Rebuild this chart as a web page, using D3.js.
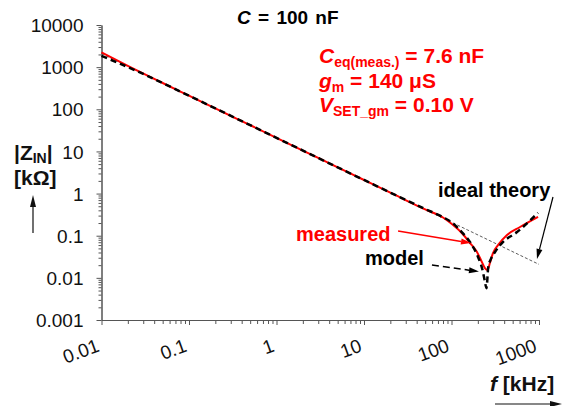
<!DOCTYPE html>
<html>
<head>
<meta charset="utf-8">
<script src="https://cdn.jsdelivr.net/npm/d3@7"></script>
<style>
  html, body { margin: 0; padding: 0; background: #fff; }
  svg { display: block; font-family: "Liberation Sans", Arial, sans-serif; }
</style>
</head>
<body>
<svg id="chart" width="573" height="406"></svg>
<script>
// ---------------- data ----------------
const freqMeasured = [0.01, 0.02, 0.05, 0.1, 0.2, 0.5, 1, 2, 5, 10, 20, 50, 80, 96, 131, 163, 194, 217, 241, 257, 275, 298, 340, 431, 607, 975];
const zMeasured    = [2250, 1070, 420, 210, 105, 42, 21, 10.5, 4.2, 2.1, 1.05, 0.42, 0.27, 0.205, 0.116, 0.067, 0.042, 0.0265, 0.0171, 0.0153, 0.0225, 0.0388, 0.060, 0.104, 0.161, 0.28];

const freqModel = [0.01, 0.015, 0.03, 0.1, 1, 10, 50, 80, 100, 131, 163, 201, 225, 240, 251, 263, 280, 314, 377, 561, 975];
const zModel    = [1850, 1300, 690, 210, 21, 2.1, 0.43, 0.275, 0.21, 0.122, 0.07, 0.0313, 0.016, 0.0085, 0.0057, 0.018, 0.027, 0.041, 0.067, 0.122, 0.35];

const freqIdeal = [0.01, 1000];
const zIdeal    = [2094, 0.0209];

const xTicks = [0.01, 0.1, 1, 10, 100, 1000];
const xTickLabels = ["0.01", "0.1", "1", "10", "100", "1000"];
const yTicks = [0.001, 0.01, 0.1, 1, 10, 100, 1000, 10000];
const yTickLabels = ["0.001", "0.01", "0.1", "1", "10", "100", "1000", "10000"];

// annotation arrow ends, in data coordinates [f, |Z|]
const arrowMeasured = [[24.5, 0.129], [167, 0.067]];
const arrowModel    = [[59.8, 0.0202], [206, 0.0141]];
const arrowIdeal    = [[1445, 0.83], [948, 0.028]];

// ---------------- chart ----------------
const svg = d3.select("#chart");
const x = d3.scaleLog().domain([0.01, 1000]).range([101.5, 539]);
const y = d3.scaleLog().domain([0.001, 10000]).range([320, 25]);

const axisColor = "#555";
const textColor = "#111";

// minor ticks
const yMinor = y.ticks().filter(v => !yTicks.some(t => Math.abs(t - v) / t < 1e-9));
const xMinor = x.ticks().filter(v => !xTicks.some(t => Math.abs(t - v) / t < 1e-9));

const gy = svg.append("g").attr("transform", `translate(${x(0.01)},0)`);
gy.call(d3.axisLeft(y).tickValues(yMinor).tickSize(3).tickSizeOuter(0).tickFormat(""));
gy.call(g => {});
const gyMaj = svg.append("g").attr("transform", `translate(${x(0.01)},0)`)
  .call(d3.axisLeft(y).tickValues(yTicks).tickSize(5).tickSizeOuter(0).tickPadding(13)
        .tickFormat((d, i) => yTickLabels[i]));
[gy, gyMaj].forEach(g => {
  g.selectAll("path, line").attr("stroke", axisColor).attr("stroke-width", 1);
});
gyMaj.selectAll("text").attr("font-size", 19).attr("fill", textColor)
  .attr("font-family", "'Liberation Sans', Arial, sans-serif").attr("dy", "0.35em");

const gx = svg.append("g").attr("transform", `translate(0,${y(0.001)})`)
  .call(d3.axisBottom(x).tickValues(xMinor).tickSize(4).tickSizeOuter(0).tickFormat(""));
const gxMaj = svg.append("g").attr("transform", `translate(0,${y(0.001)})`)
  .call(d3.axisBottom(x).tickValues(xTicks).tickSize(5).tickSizeOuter(0).tickFormat(""));
[gx, gxMaj].forEach(g => {
  g.selectAll("path, line").attr("stroke", axisColor).attr("stroke-width", 1);
});
svg.append("g").selectAll("text").data(xTicks).join("text")
  .attr("transform", d => `translate(${x(d) - 1},351) rotate(-20)`)
  .attr("text-anchor", "end")
  .attr("font-size", 19).attr("fill", textColor)
  .text((d, i) => xTickLabels[i]);

// lines
const line = d3.line().x(d => x(d[0])).y(d => y(d[1])).curve(d3.curveMonotoneX);
const idealData = freqIdeal.map((f, i) => [f, zIdeal[i]]);
const measData = freqMeasured.map((f, i) => [f, zMeasured[i]]);
const modelData = freqModel.map((f, i) => [f, zModel[i]]);

svg.append("path").datum(idealData).attr("d", d3.line().x(d => x(d[0])).y(d => y(d[1])))
  .attr("fill", "none").attr("stroke", "#333").attr("stroke-width", 0.8).attr("stroke-dasharray", "3,2");
svg.append("path").datum(measData).attr("d", line)
  .attr("fill", "none").attr("stroke", "#ff0000").attr("stroke-width", 2);
svg.append("path").datum(modelData).attr("d", line)
  .attr("fill", "none").attr("stroke", "#000").attr("stroke-width", 2.5).attr("stroke-dasharray", "6,4");

// arrow helper (pixel coords)
function arrow(x1, y1, x2, y2, color, width, dash, headLen = 10, headW = 6) {
  const a = Math.atan2(y2 - y1, x2 - x1);
  const bx = x2 - headLen * Math.cos(a), by = y2 - headLen * Math.sin(a);
  svg.append("line").attr("x1", x1).attr("y1", y1).attr("x2", bx).attr("y2", by)
    .attr("stroke", color).attr("stroke-width", width).attr("stroke-dasharray", dash || null);
  const px = -Math.sin(a) * headW / 2, py = Math.cos(a) * headW / 2;
  svg.append("polygon")
    .attr("points", `${x2},${y2} ${bx + px},${by + py} ${bx - px},${by - py}`)
    .attr("fill", color);
}
function dataArrow(ar, color, width, dash) {
  arrow(x(ar[0][0]), y(ar[0][1]), x(ar[1][0]), y(ar[1][1]), color, width, dash);
}
dataArrow(arrowMeasured, "#ff0000", 1.5, null);
dataArrow(arrowModel, "#000", 1.5, "7,4");
dataArrow(arrowIdeal, "#000", 1.2, null);

// annotation labels
svg.append("text").attr("x", 296).attr("y", 241).attr("font-size", 20).attr("font-weight", "bold")
  .attr("fill", "#ff0000").text("measured");
svg.append("text").attr("x", 365).attr("y", 265).attr("font-size", 20).attr("font-weight", "bold")
  .attr("fill", "#000").text("model");
svg.append("text").attr("x", 438).attr("y", 197).attr("font-size", 20).attr("font-weight", "bold")
  .attr("fill", "#000").text("ideal theory");

// title
const title = svg.append("text").attr("x", 237).attr("y", 24).attr("font-size", 19)
  .attr("font-weight", "bold").attr("fill", "#000").attr("word-spacing", 2);
title.append("tspan").attr("font-style", "italic").text("C");
title.append("tspan").text(" = 100 nF");

// red parameters
const red = "#ff0000";
const p1 = svg.append("text").attr("x", 319).attr("y", 63).attr("font-size", 21).attr("font-weight", "bold").attr("fill", red);
p1.append("tspan").attr("font-style", "italic").text("C");
p1.append("tspan").attr("font-size", 14).attr("dy", 4).text("eq(meas.)");
p1.append("tspan").attr("dy", -4).text(" = 7.6 nF");
const p2 = svg.append("text").attr("x", 319).attr("y", 88).attr("font-size", 21).attr("font-weight", "bold").attr("fill", red);
p2.append("tspan").attr("font-style", "italic").text("g");
p2.append("tspan").attr("font-size", 14).attr("dy", 4).text("m");
p2.append("tspan").attr("dy", -4).text(" = 140 \u03BCS");
const p3 = svg.append("text").attr("x", 319).attr("y", 112).attr("font-size", 21).attr("font-weight", "bold").attr("fill", red);
p3.append("tspan").attr("font-style", "italic").text("V");
p3.append("tspan").attr("font-size", 14).attr("dy", 4).text("SET_gm");
p3.append("tspan").attr("dy", -4).text(" = 0.10 V");

// y axis title
const yt = svg.append("text").attr("x", 14).attr("y", 160).attr("font-size", 21).attr("font-weight", "bold").attr("fill", textColor);
yt.append("tspan").text("|Z");
yt.append("tspan").attr("font-size", 14).attr("dy", 3).text("IN");
yt.append("tspan").attr("dy", -3).text("|");
svg.append("text").attr("x", 14).attr("y", 185).attr("font-size", 21).attr("font-weight", "bold")
  .attr("fill", textColor).text("[k\u03A9]");
arrow(33, 233, 33, 195, textColor, 1.2, null, 12, 6);

// x axis title
const xt = svg.append("text").attr("x", 490).attr("y", 391).attr("font-size", 21).attr("font-weight", "bold").attr("fill", textColor);
xt.append("tspan").attr("font-style", "italic").text("f");
xt.append("tspan").text(" [kHz]");
arrow(495, 404, 562, 404, textColor, 1.2, null, 12, 6);
</script>
</body>
</html>
